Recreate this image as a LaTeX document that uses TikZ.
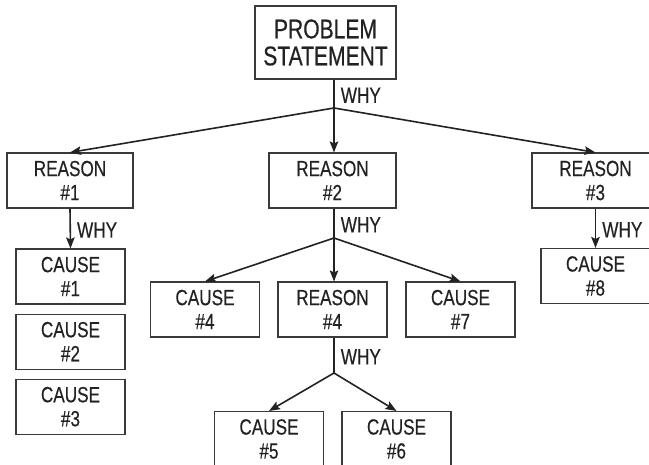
\documentclass[tikz,border=0pt]{standalone}
\usepackage{fontspec}
\setmainfont{Liberation Sans}[FakeStretch=0.78, FakeBold=0.4]
\usetikzlibrary{arrows.meta, positioning}
\definecolor{ink}{HTML}{222222}
\definecolor{frame}{HTML}{3A3A3A}
\tikzset{
  box/.style={draw=frame, line width=1.1pt, text=ink, align=center, inner sep=0pt,
    minimum width=109pt, minimum height=55pt, font=\fontsize{22}{24}\selectfont},
  link/.style={draw=ink, line width=1.6pt},
  why/.style={link, -{Stealth[length=11pt, width=8.5pt, inset=2pt]}},
  whytext/.style={text=ink, font=\fontsize{22}{24}\selectfont, anchor=west,
    inner sep=0pt, xshift=6pt, yshift=-1.5pt}
}

\begin{document}
\begin{tikzpicture}[x=1pt, y=-1pt]
  \useasboundingbox (0,0) rectangle (649,465);
  % Problem statement
  \node[box, minimum width=141pt, minimum height=73pt,
    font=\fontsize{27}{27}\selectfont] (prob) at (325.5,42.5) {PROBLEM\\STATEMENT};
  \coordinate (j0) at (334,108);
  \draw[link] (prob.south -| j0) -- (j0) node[whytext, midway] {WHY};
  % Reasons
  \node[box, minimum width=126pt] (r1) at (70,180.5) {REASON\\\#1};
  \node[box, minimum width=127pt] (r2) at (332.5,180.5) {REASON\\\#2};
  \node[box, minimum width=127pt] (r3) at (595.5,180.5) {REASON\\\#3};
  \draw[why] (j0) -- (r1.north);
  \draw[why] (j0) -- (r2.north -| j0);
  \draw[why] (j0) -- (r3.north);
  % Reason 1 branch
  \node[box] (c1) at (70.5,276.5) {CAUSE\\\#1};
  \node[box, below=9pt of c1] (c2) {CAUSE\\\#2};
  \node[box, below=9pt of c2] (c3) {CAUSE\\\#3};
  \draw[why] (r1.south) -- (c1.north) node[whytext, midway] {WHY};
  % Reason 3 branch
  \node[box] (c8) at (595.5,276) {CAUSE\\\#8};
  \draw[why] (r3.south) -- (c8.north) node[whytext, midway] {WHY};
  % Reason 2 branch
  \node[box] (c4) at (205,309.5) {CAUSE\\\#4};
  \node[box] (r4) at (332.5,309.5) {REASON\\\#4};
  \node[box] (c7) at (460.5,309.5) {CAUSE\\\#7};
  \coordinate (j1) at (334,238);
  \draw[link] (r2.south -| j1) -- (j1) node[whytext, midway] {WHY};
  \draw[why] (j1) -- (c4.north);
  \draw[why] (j1) -- (r4.north -| j1);
  \draw[why] (j1) -- (c7.north);
  % Reason 4 branch
  \node[box] (c5) at (269,439) {CAUSE\\\#5};
  \node[box] (c6) at (396.5,439) {CAUSE\\\#6};
  \coordinate (j2) at (334,373);
  \draw[link] (r4.south -| j2) -- (j2) node[whytext, midway] {WHY};
  \draw[why] (j2) -- (c5.north);
  \draw[why] (j2) -- (c6.north);
\end{tikzpicture}
\end{document}
